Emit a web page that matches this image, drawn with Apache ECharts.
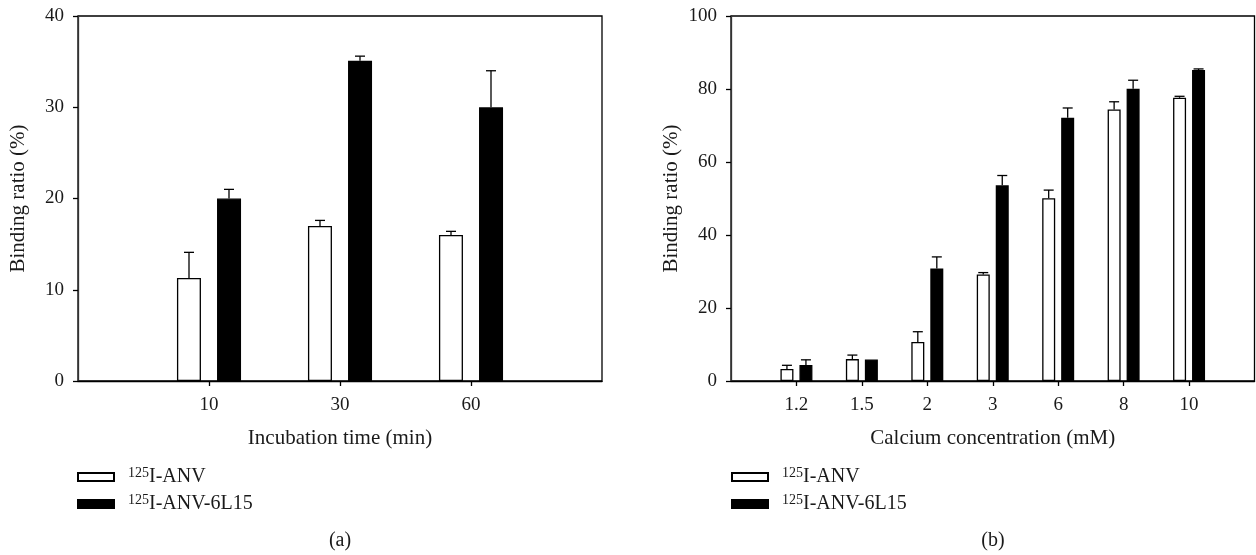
<!DOCTYPE html>
<html>
<head>
<meta charset="utf-8">
<script src="https://cdn.jsdelivr.net/npm/echarts@6/dist/echarts.min.js"></script>
<style>
html, body {margin: 0; padding: 0; background: #fff;}
#chart {width: 1256px; height: 555px;}
</style>
</head>
<body>
<div id="chart"></div>
<script>
// (a) incubation time
var timeCats = ['10', '30', '60']
var timeAnv = [11.3, 17.0, 16.0]
var timeAnvErr = [2.8, 0.6, 0.4]
var timeL15 = [20.0, 35.1, 30.0]
var timeL15Err = [1.0, 0.5, 4.0]

// (b) calcium concentration
var calcCats = ['1.2', '1.5', '2', '3', '6', '8', '10']
var calcAnv = [3.3, 6.0, 10.7, 29.2, 50.1, 74.4, 77.6]
var calcAnvErr = [1.0, 1.1, 2.8, 0.5, 2.2, 2.1, 0.4]
var calcL15 = [4.4, 5.9, 30.8, 53.6, 72.1, 80.1, 85.2]
var calcL15Err = [1.4, 0, 3.2, 2.7, 2.7, 2.3, 0.3]

var seriesNames = ['ANV', 'ANV-6L15']
var yMax = [40, 100]
var yStep = [10, 20]

var FONT = '"Liberation Serif", "DejaVu Serif", serif'
var INK = '#1a1a1a'

function padCats (cats) {
	return [''].concat(cats, [''])
}

function padVals (vals) {
	return [null].concat(vals, [null])
}

function innerOnly (len) {
	return function (index) {
		return index > 0 && index < len + 1
	}
}

function barSeries (idx, name, vals, dark, barW, gapPct) {
	return {
		name: name,
		type: 'bar',
		xAxisIndex: idx,
		yAxisIndex: idx,
		barWidth: barW,
		barGap: gapPct,
		data: padVals(vals),
		itemStyle: {
			color: dark ? '#000' : '#fff',
			borderColor: '#000',
			borderWidth: 1.3
		},
		emphasis: {disabled: true},
		z: 2
	}
}

function errorSeries (idx, name, vals, errs, offset) {
	var data = []
	for (var i = 0; i < vals.length; i++) {
		if (errs[i] > 0) {
			data.push([i + 1, vals[i], vals[i] + errs[i]])
		}
	}
	return {
		name: name,
		type: 'custom',
		xAxisIndex: idx,
		yAxisIndex: idx,
		encode: {x: 0, y: [1, 2]},
		data: data,
		z: 3,
		silent: true,
		renderItem: function (params, api) {
			var lo = api.coord([api.value(0), api.value(1)])
			var hi = api.coord([api.value(0), api.value(2)])
			var x = lo[0] + offset
			var st = {stroke: '#000', lineWidth: 1.3}
			return {
				type: 'group',
				children: [
					{type: 'line', shape: {x1: x, y1: lo[1], x2: x, y2: hi[1]}, style: st},
					{type: 'line', shape: {x1: x - 5, y1: hi[1], x2: x + 5, y2: hi[1]}, style: st}
				]
			}
		}
	}
}

function xAxisOf (idx, cats, title) {
	return {
		type: 'category',
		gridIndex: idx,
		data: padCats(cats),
		boundaryGap: false,
		name: title,
		nameLocation: 'middle',
		nameGap: 47,
		nameTextStyle: {fontFamily: FONT, fontSize: 21, color: INK},
		axisLine: {lineStyle: {color: '#000', width: 1.3}},
		axisTick: {show: true, length: 5, interval: innerOnly(cats.length), lineStyle: {color: '#000', width: 1.3}},
		axisLabel: {interval: innerOnly(cats.length), margin: 15, fontFamily: FONT, fontSize: 19, color: INK},
		splitLine: {show: false}
	}
}

function yAxisOf (idx) {
	return {
		type: 'value',
		gridIndex: idx,
		min: 0,
		max: yMax[idx],
		interval: yStep[idx],
		name: 'Binding ratio (%)',
		nameLocation: 'middle',
		nameGap: 49,
		nameTextStyle: {fontFamily: FONT, fontSize: 21, color: INK},
		axisLine: {show: true, lineStyle: {color: '#333', width: 1.3}},
		axisTick: {show: true, length: 5, lineStyle: {color: '#000', width: 1.3}},
		axisLabel: {margin: 14, fontFamily: FONT, fontSize: 19, color: INK},
		splitLine: {show: false}
	}
}

function legendOf (left) {
	return {
		orient: 'vertical',
		left: left,
		top: 466,
		padding: 0,
		icon: 'rect',
		itemWidth: 36,
		itemHeight: 8,
		itemGap: 5,
		selectedMode: false,
		data: seriesNames,
		formatter: function (name) {
			return '{sup|125}I-' + name
		},
		textStyle: {
			fontFamily: FONT,
			fontSize: 20,
			lineHeight: 22,
			color: INK,
			padding: [0, 0, 0, 9],
			rich: {
				sup: {fontFamily: FONT, fontSize: 14, lineHeight: 14, verticalAlign: 'top', color: INK}
			}
		}
	}
}

var chart = echarts.init(document.getElementById('chart'))

chart.setOption({
	animation: false,
	backgroundColor: '#fff',
	grid: [
		{left: 78, right: 654, top: 16, bottom: 174, show: true, borderColor: '#000', borderWidth: 1.3, backgroundColor: 'transparent'},
		{left: 731, right: 1.5, top: 16, bottom: 174, show: true, borderColor: '#000', borderWidth: 1.3, backgroundColor: 'transparent'}
	],
	xAxis: [
		xAxisOf(0, timeCats, 'Incubation time (min)'),
		xAxisOf(1, calcCats, 'Calcium concentration (mM)')
	],
	yAxis: [yAxisOf(0), yAxisOf(1)],
	legend: [legendOf(77), legendOf(731)],
	series: [
		barSeries(0, seriesNames[0], timeAnv, false, 24, '67%'),
		barSeries(0, seriesNames[1], timeL15, true, 24, '67%'),
		errorSeries(0, seriesNames[0], timeAnv, timeAnvErr, -20),
		errorSeries(0, seriesNames[1], timeL15, timeL15Err, 20),
		barSeries(1, seriesNames[0], calcAnv, false, 13, '46%'),
		barSeries(1, seriesNames[1], calcL15, true, 13, '46%'),
		errorSeries(1, seriesNames[0], calcAnv, calcAnvErr, -9.5),
		errorSeries(1, seriesNames[1], calcL15, calcL15Err, 9.5)
	],
	graphic: [
		{type: 'text', x: 340, y: 541, style: {text: '(a)', align: 'center', verticalAlign: 'middle', font: '20px ' + FONT, fill: INK}},
		{type: 'text', x: 993, y: 541, style: {text: '(b)', align: 'center', verticalAlign: 'middle', font: '20px ' + FONT, fill: INK}}
	]
})
</script>
</body>
</html>
